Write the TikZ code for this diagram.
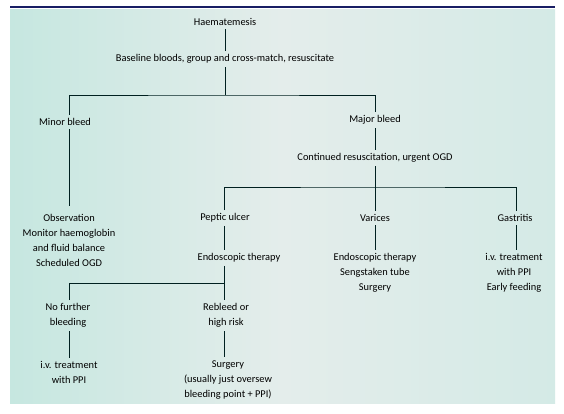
\documentclass[tikz,border=0pt]{standalone}
\usepackage{fontspec}
\setmainfont{Carlito}
\begin{document}
\begin{tikzpicture}[x=1pt,y=-1pt,
  lbl/.style={align=center,inner xsep=2pt,inner ysep=3.5pt,outer sep=0pt,text=black,
    font=\fontsize{10.4}{15}\selectfont},
  conn/.style={draw=black!75!teal,line width=0.9pt}]
\useasboundingbox (0,0) rectangle (564,413);
\fill[white] (0,0) rectangle (564,413);
\shade[left color={rgb,255:red,198;green,231;blue,224}, right color={rgb,255:red,212;green,234;blue,230}, middle color={rgb,255:red,228;green,237;blue,235}] (10,9) rectangle (555,403);
\draw[line width=1.8pt,draw={rgb,255:red,25;green,30;blue,100}] (10,7) -- (555,7);

\node[lbl] (haem) at (225,22) {Haematemesis};
\node[lbl] (base) at (225,59) {Baseline bloods, group and cross-match, resuscitate};
\node[lbl] (minor) at (65,122) {Minor bleed};
\node[lbl] (major) at (375,120) {Major bleed};
\node[lbl] (cont) at (375,158) {Continued resuscitation, urgent OGD};
\node[lbl,inner ysep=8pt] (obs) at (69,240.5) {Observation\\Monitor haemoglobin\\and fluid balance\\Scheduled OGD};
\node[lbl] (pep) at (225,218) {Peptic ulcer};
\node[lbl] (var) at (375,218) {Varices};
\node[lbl] (gas) at (515,218) {Gastritis};
\node[lbl] (endo) at (239,258) {Endoscopic therapy};
\node[lbl] (vtr) at (375,273) {Endoscopic therapy\\Sengstaken tube\\Surgery};
\node[lbl] (gtr) at (514,273) {i.v. treatment\\with PPI\\Early feeding};
\node[lbl] (nof) at (68,315.5) {No further\\bleeding};
\node[lbl] (reb) at (226,315.5) {Rebleed or\\high risk};
\node[lbl] (ivt) at (69,372.5) {i.v. treatment\\with PPI};
\node[lbl] (surg) at (228,380) {Surgery\\(usually just oversew\\bleeding point + PPI)};

\coordinate (j1) at (225,95);
\coordinate (j2) at (375,187);
\coordinate (j3) at (224,283);

\draw[conn] (haem) -- (base);
\draw[conn] (base) -- (j1);
\draw[conn] (69,0 |- minor.north) |- (j1) -| (major.north);
\draw[conn] (69,0 |- minor.south) -- (69,0 |- obs.north);
\draw[conn] (major) -- (cont);
\draw[conn] (cont) -- (j2);
\draw[conn] (pep.north -| 224,0) |- (j2) -| (gas.north -| 516,0);
\draw[conn] (j2) -- (var);
\draw[conn] (pep.south -| 224,0) -- (224,0 |- endo.north);
\draw[conn] (var) -- (vtr);
\draw[conn] (gas.south -| 516,0) -- (516,0 |- gtr.north);
\draw[conn] (224,0 |- endo.south) -- (j3);
\draw[conn] (nof.north -| 69,0) |- (j3) -- (224,0 |- reb.north);
\draw[conn] (nof.south -| 69,0) -- (69,0 |- ivt.north);
\draw[conn] (reb.south -| 224,0) -- (224,0 |- surg.north);
\end{tikzpicture}
\end{document}
